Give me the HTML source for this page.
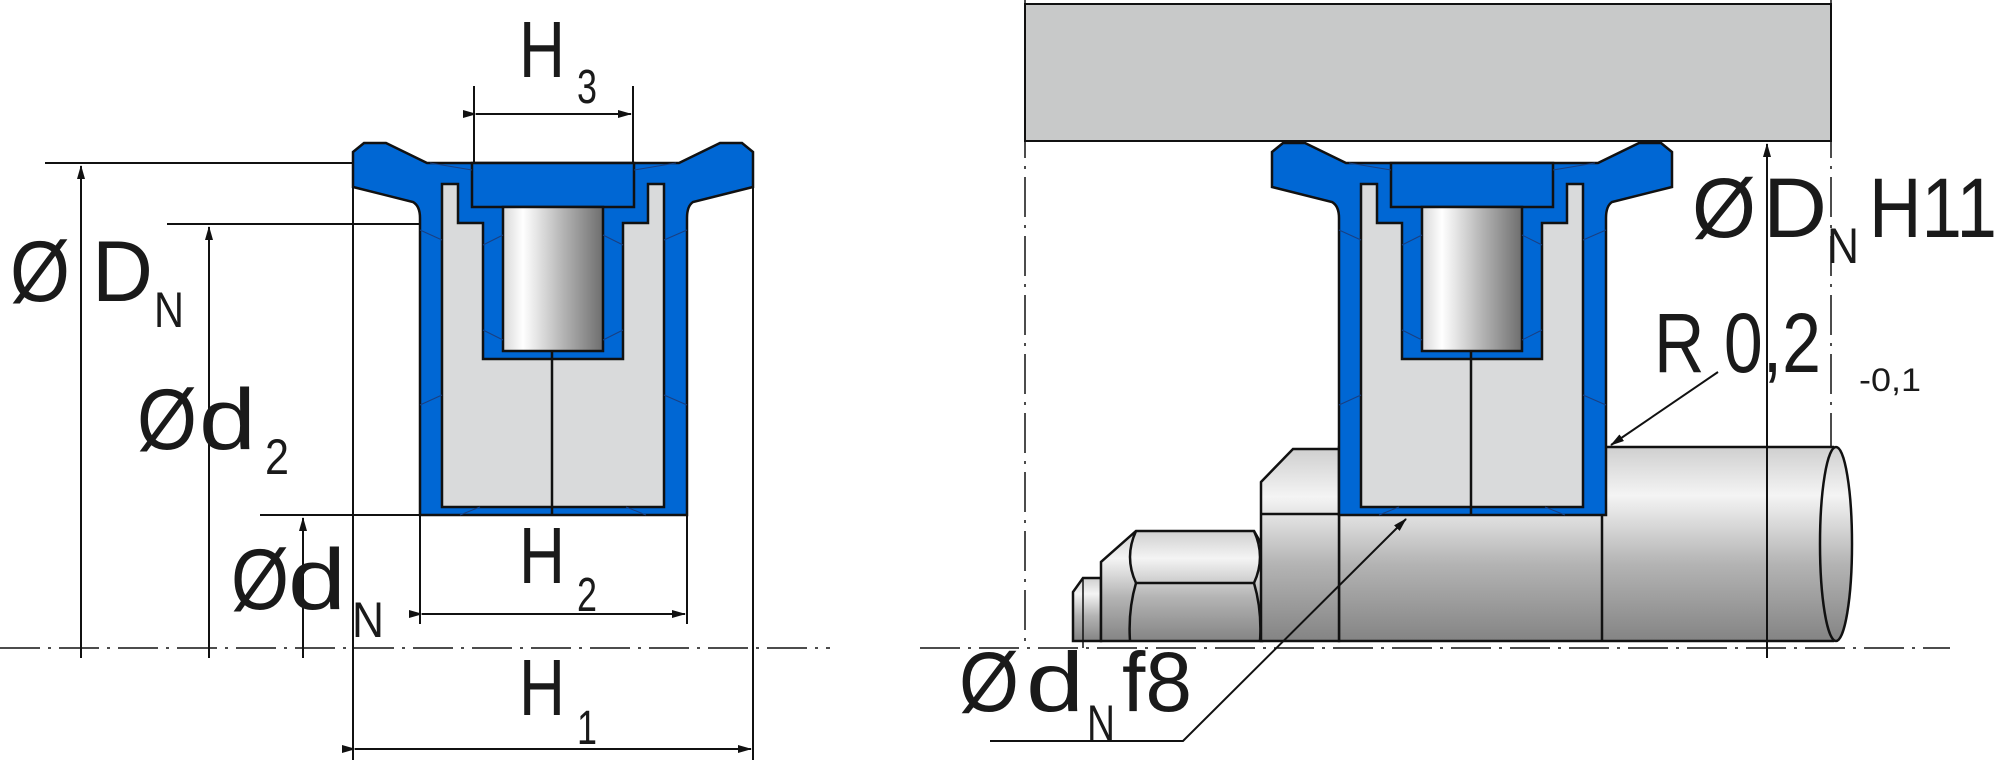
<!DOCTYPE html>
<html><head><meta charset="utf-8"><style>
html,body{margin:0;padding:0;background:#fff;}
svg{display:block;}
text{font-family:"Liberation Sans",Arial,sans-serif;fill:#1a1a1a;}
</style></head><body>
<svg width="2000" height="771" viewBox="0 0 2000 771" xmlns="http://www.w3.org/2000/svg">
<defs>
<linearGradient id="cyl" x1="0" y1="0" x2="1" y2="0">
<stop offset="0" stop-color="#d8d8d8"/><stop offset="0.2" stop-color="#ffffff"/><stop offset="0.6" stop-color="#b4b4b4"/><stop offset="1" stop-color="#6e6e6e"/>
</linearGradient>
<linearGradient id="shaft" x1="0" y1="0" x2="0" y2="1">
<stop offset="0" stop-color="#cfcfcf"/><stop offset="0.25" stop-color="#f4f4f4"/><stop offset="0.6" stop-color="#b4b4b4"/><stop offset="1" stop-color="#848484"/>
</linearGradient>
<marker id="ar" markerWidth="14" markerHeight="8" refX="13" refY="4" orient="auto" markerUnits="userSpaceOnUse"><path d="M0,0 L14,4 L0,8 Z" fill="#111"/></marker>
<g id="seal">
<path d="M353,152 L364,143 L386,143 L427,163 L679,163 L720,143 L742,143 L753,152 L753,187 L693,202 Q687,206 687,218 L687,515 L420,515 L420,218 Q420,206 413,202 L353,187 Z" fill="#0067d4" stroke="#111" stroke-width="2.5"/>
<path d="M442,184 L458,184 L458,223 L483,223 L483,359 L623,359 L623,223 L648,223 L648,184 L664,184 L664,507 L442,507 Z" fill="#d9dadb" stroke="#111" stroke-width="2.5"/>
<rect x="472" y="163" width="162" height="44" fill="#0067d4" stroke="#111" stroke-width="2.5"/>
<rect x="503" y="207" width="100" height="144" fill="url(#cyl)" stroke="#111" stroke-width="2.5"/>
<line x1="552" y1="351" x2="552" y2="515" stroke="#111" stroke-width="2.5"/>
<g stroke="#1a3f80" stroke-width="1" fill="none">
<path d="M420,230 L442,240 M420,405 L442,395 M664,240 L687,230 M664,395 L687,405 M460,515 L480,507 M626,507 L646,515 M483,245 L503,235 M483,330 L503,340 M603,235 L623,245 M603,340 L623,330 M430,163 L472,170 M634,170 L676,163"/>
</g>
</g>
</defs>

<g stroke="#111" stroke-width="2" fill="none">
<line x1="0" y1="648" x2="830" y2="648" stroke-dasharray="40,8,3,8" stroke-width="1.5"/>
<line x1="45" y1="163" x2="353" y2="163"/>
<line x1="167" y1="224" x2="420" y2="224"/>
<line x1="260" y1="515" x2="420" y2="515"/>
<line x1="81" y1="658" x2="81" y2="166" marker-end="url(#ar)"/>
<line x1="209" y1="658" x2="209" y2="227" marker-end="url(#ar)"/>
<line x1="303" y1="658" x2="303" y2="518" marker-end="url(#ar)"/>
<line x1="353" y1="187" x2="353" y2="760"/>
<line x1="753" y1="187" x2="753" y2="760"/>
<line x1="420" y1="515" x2="420" y2="624"/>
<line x1="687" y1="515" x2="687" y2="624"/>
<line x1="474" y1="86" x2="474" y2="170"/>
<line x1="633" y1="86" x2="633" y2="170"/>
<line x1="476" y1="114" x2="631" y2="114" marker-start="url(#ar)" marker-end="url(#ar)"/>
<line x1="422" y1="614" x2="685" y2="614" marker-start="url(#ar)" marker-end="url(#ar)"/>
<line x1="355" y1="749" x2="751" y2="749" marker-start="url(#ar)" marker-end="url(#ar)"/>
</g>
<use href="#seal"/>

<g font-size="86">
<text x="10" y="301" textLength="60" lengthAdjust="spacingAndGlyphs">Ø</text>
<text x="92" y="301" textLength="61" lengthAdjust="spacingAndGlyphs">D</text>
<text x="154" y="327" font-size="50" textLength="30" lengthAdjust="spacingAndGlyphs">N</text>
<text x="137" y="449" textLength="60" lengthAdjust="spacingAndGlyphs">Ø</text>
<text x="199" y="449" textLength="57" lengthAdjust="spacingAndGlyphs">d</text>
<text x="265" y="474" font-size="50" textLength="24" lengthAdjust="spacingAndGlyphs">2</text>
<text x="231" y="609" textLength="58" lengthAdjust="spacingAndGlyphs">Ø</text>
<text x="288" y="609" textLength="58" lengthAdjust="spacingAndGlyphs">d</text>
<text x="352" y="637" font-size="50" textLength="32" lengthAdjust="spacingAndGlyphs">N</text>
</g>
<g font-size="80">
<text x="519" y="77" textLength="46" lengthAdjust="spacingAndGlyphs">H</text><text x="577" y="103" font-size="48" textLength="20" lengthAdjust="spacingAndGlyphs">3</text>
<text x="519" y="583" textLength="46" lengthAdjust="spacingAndGlyphs">H</text><text x="577" y="611" font-size="48" textLength="20" lengthAdjust="spacingAndGlyphs">2</text>
<text x="519" y="715" textLength="46" lengthAdjust="spacingAndGlyphs">H</text><text x="577" y="744" font-size="48" textLength="20" lengthAdjust="spacingAndGlyphs">1</text>
</g>

<rect x="1025" y="4" width="806" height="137" fill="#c8c9c9" stroke="#111" stroke-width="2"/>
<g stroke="#111" stroke-width="1.5" fill="none" stroke-dasharray="40,8,3,8">
<line x1="1025" y1="0" x2="1025" y2="648"/>
<line x1="1831" y1="0" x2="1831" y2="447"/>
<line x1="920" y1="648" x2="1950" y2="648"/>
</g>
<g stroke="#111" stroke-width="2.5" fill="url(#shaft)">
<path d="M1339,447 L1833,447 L1833,641 L1339,641 Z"/>
<path d="M1073,641 L1073,592 L1083,578 L1101,578 L1101,641 Z"/>
<path d="M1101,641 L1101,562 L1136,531 L1254,531 L1262,545 L1262,641 Z"/>
<path d="M1261,641 L1261,482 L1293,449 L1339,449 L1339,641 Z"/>
<ellipse cx="1836" cy="544" rx="16" ry="97"/>
</g>
<g stroke="#111" stroke-width="2.5" fill="none">
<path d="M1136,531 Q1124,557 1136,583 Q1128,610 1130,641"/>
<path d="M1254,531 Q1266,557 1254,583 Q1262,610 1260,641"/>
<line x1="1136" y1="583" x2="1254" y2="583"/>
<line x1="1261" y1="514" x2="1339" y2="514"/>
<line x1="1602" y1="515" x2="1602" y2="641"/>
<line x1="1083" y1="578" x2="1083" y2="648" stroke-width="1.5"/>
</g>
<use href="#seal" transform="translate(919,0)"/>
<g stroke="#111" stroke-width="2" fill="none">
<line x1="1767" y1="658" x2="1767" y2="144" marker-end="url(#ar)"/>
<line x1="1718" y1="372" x2="1611" y2="445" marker-end="url(#ar)"/>
<polyline points="990,741 1183,741 1406,519" marker-end="url(#ar)"/>
</g>
<g font-size="84">
<text x="1692" y="237" textLength="64" lengthAdjust="spacingAndGlyphs">Ø</text>
<text x="1763" y="237" textLength="64" lengthAdjust="spacingAndGlyphs">D</text>
<text x="1827" y="263" font-size="50" textLength="32" lengthAdjust="spacingAndGlyphs">N</text>
<text x="1869" y="237" textLength="128" lengthAdjust="spacingAndGlyphs">H11</text>
<text x="1654" y="372" textLength="167" lengthAdjust="spacingAndGlyphs">R 0,2</text>
<text x="1859" y="391" font-size="32" textLength="62" lengthAdjust="spacingAndGlyphs">-0,1</text>
<text x="959" y="711" textLength="60" lengthAdjust="spacingAndGlyphs">Ø</text>
<text x="1026" y="711" textLength="58" lengthAdjust="spacingAndGlyphs">d</text>
<text x="1087" y="740" font-size="50" textLength="28" lengthAdjust="spacingAndGlyphs">N</text>
<text x="1122" y="711" textLength="70" lengthAdjust="spacingAndGlyphs">f8</text>
</g>
</svg>
</body></html>
